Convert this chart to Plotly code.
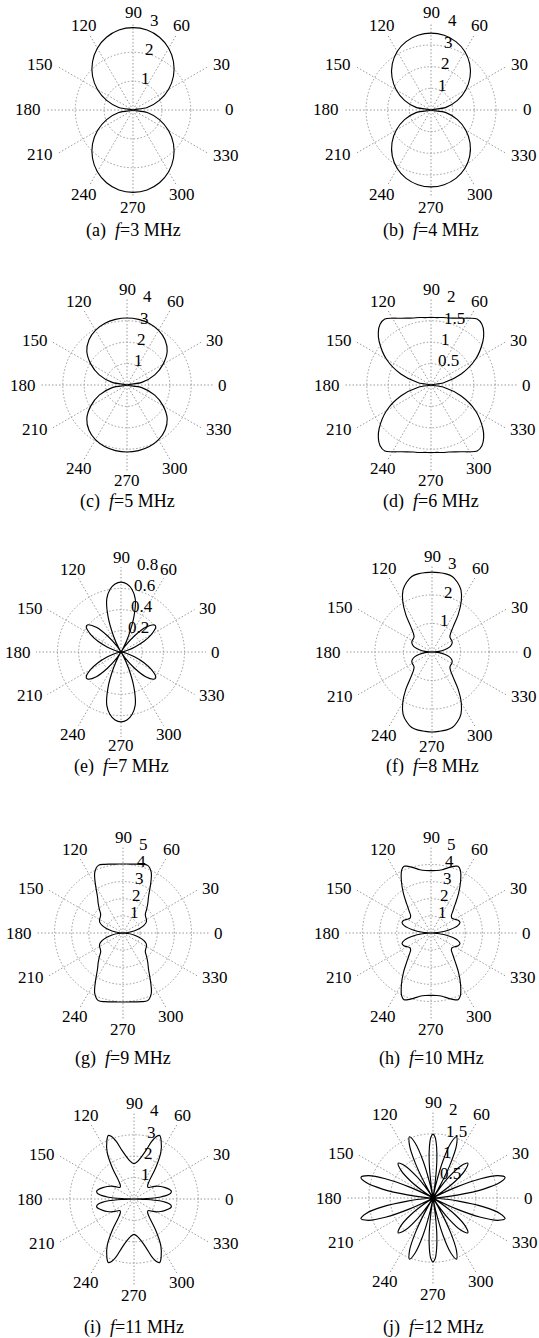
import math
import plotly.graph_objects as go

W, H = 539, 1338

# ---------------- data (one quadrant, 0..90 deg; patterns are symmetric) -------------
theta_a = [0, 10, 20, 30, 40, 50, 60, 70, 80, 90]
r_a = [0, 0.5, 0.97, 1.42, 1.83, 2.18, 2.47, 2.68, 2.81, 2.85]

theta_b = [0, 10, 20, 30, 40, 50, 60, 70, 80, 90]
r_b = [0, 0.7, 1.3, 1.85, 2.35, 2.78, 3.12, 3.36, 3.5, 3.55]

theta_c = [0, 10, 20, 30, 40, 50, 60, 70, 80, 90]
r_c = [0, 0.7, 1.38, 1.95, 2.45, 2.76, 2.95, 3.06, 3.11, 3.13]

theta_d = [0, 10, 20, 30, 40, 45, 50, 55, 60, 65, 70, 75, 80, 85, 90]
r_d = [0, 0.3, 0.75, 1.2, 1.58, 1.74, 1.85, 1.88, 1.8, 1.72, 1.66, 1.62, 1.6, 1.58, 1.58]

theta_e = [0, 5, 10, 15, 20, 25, 30, 35, 38, 40, 45, 50, 55, 58, 60, 65, 70, 75, 80, 85, 90]
r_e = [0, 0.01, 0.03, 0.07, 0.14, 0.24, 0.33, 0.4, 0.41, 0.4, 0.33, 0.2, 0.07, 0.0, 0.04, 0.17,
       0.36, 0.52, 0.6, 0.645, 0.66]

theta_f = [0, 5, 10, 15, 20, 25, 30, 35, 40, 45, 50, 55, 60, 65, 70, 75, 80, 85, 90]
r_f = [0, 0.25, 0.45, 0.62, 0.72, 0.78, 0.8, 0.8, 0.82, 0.92, 1.15, 1.6, 2.05, 2.4, 2.6, 2.74,
       2.78, 2.79, 2.8]

theta_g = [0, 5, 10, 15, 20, 25, 30, 35, 40, 45, 50, 55, 60, 65, 70, 75, 80, 85, 90]
r_g = [0, 0.3, 0.65, 1.0, 1.3, 1.5, 1.58, 1.62, 1.7, 1.95, 2.25, 2.6, 3.2, 3.9, 4.2, 4.15,
       4.08, 4.04, 4.03]

theta_h = [0, 5, 10, 15, 20, 25, 30, 35, 40, 45, 50, 55, 60, 65, 68, 70, 75, 80, 85, 90]
r_h = [0, 0.5, 1.1, 1.6, 1.8, 1.75, 1.6, 1.5, 1.55, 1.8, 2.2, 2.8, 3.45, 4.05, 4.2, 4.15,
       3.95, 3.75, 3.66, 3.64]

theta_i = [0, 2, 4, 6, 8, 10, 12, 15, 20, 25, 30, 35, 40, 45, 50, 55, 60, 65, 68, 70, 73,
           76, 80, 85, 90]
r_i = [0, 0.6, 1.2, 1.5, 1.68, 1.76, 1.78, 1.72, 1.55, 1.38, 1.2, 0.98, 0.85, 0.9, 1.12,
       1.75, 2.5, 3.0, 3.2, 3.12, 2.8, 2.35, 2.0, 1.75, 1.65]

theta_j = [0, 4, 7, 10, 13, 16, 19, 22, 25, 28, 31, 34, 37, 41, 45, 49, 53, 56, 58, 60, 63,
           66, 69, 72, 75, 78, 80, 82, 84, 86, 88, 90]
r_j = [0, 0.1, 0.6, 1.2, 1.6, 1.75, 1.6, 1.2, 0.6, 0.1, 0, 0.25, 0.65, 1.0, 1.15, 1.0, 0.6,
       0.2, 0, 0.3, 0.9, 1.35, 1.53, 1.35, 0.9, 0.3, 0, 0.35, 0.85, 1.2, 1.42, 1.49]

labels = ["(a)", "(b)", "(c)", "(d)", "(e)", "(f)", "(g)", "(h)", "(i)", "(j)"]
freqs = [3, 4, 5, 6, 7, 8, 9, 10, 11, 12]
radial_ticks = [
    [1, 2, 3], [1, 2, 3, 4], [1, 2, 3, 4], [0.5, 1, 1.5, 2], [0.2, 0.4, 0.6, 0.8],
    [1, 2, 3], [1, 2, 3, 4, 5], [1, 2, 3, 4, 5], [1, 2, 3, 4], [0.5, 1, 1.5, 2],
]
angle_ticks = list(range(0, 360, 30))

series = [(theta_a, r_a), (theta_b, r_b), (theta_c, r_c), (theta_d, r_d), (theta_e, r_e),
          (theta_f, r_f), (theta_g, r_g), (theta_h, r_h), (theta_i, r_i), (theta_j, r_j)]

# ---------------- layout positions (pixels) ----------------
centers = [(133, 110), (431, 110), (127, 385), (431, 385), (121, 652), (432, 652),
           (123, 933), (431, 933), (134, 1199), (433, 1198)]
radii = [87, 87, 86, 86, 85, 86, 86, 86, 86, 86]
caption_y = [231, 231, 501, 501, 767, 767, 1058, 1058, 1327, 1327]
bottom_gap = [10, 10, 10, 10, 8, 8, 10, 10, 10, 10]

FONT = "Liberation Serif"
FS = 17
GRID = "#9a9a9a"
DASH = "1.5px,2px"


def full_circle(th, r):
    T = list(th) + [180 - t for t in th[-2::-1]] + [180 + t for t in th[1:]] + \
        [360 - t for t in th[-2::-1]]
    R = list(r) + list(r[-2::-1]) + list(r[1:]) + list(r[-2::-1])
    return T, R


def px_to_paper(x, y):
    return x / W, 1 - y / H


fig = go.Figure()
annotations = []
for k, ((th, r), (cx, cy), R) in enumerate(zip(series, centers, radii)):
    name = "polar" if k == 0 else f"polar{k + 1}"
    T, RR = full_circle(th, r)
    fig.add_trace(go.Scatterpolar(
        theta=T, r=RR, mode="lines", subplot=name,
        line=dict(color="black", width=1.15, shape="spline", smoothing=1),
        showlegend=False, hoverinfo="skip"))
    ticks = radial_ticks[k]
    tmax = ticks[-1]
    fig.update_layout(**{name: dict(
        domain=dict(x=[(cx - R) / W, (cx + R) / W], y=[1 - (cy + R) / H, 1 - (cy - R) / H]),
        bgcolor="white",
        angularaxis=dict(
            rotation=0, direction="counterclockwise", tickmode="array",
            tickvals=angle_ticks, showticklabels=False,
            showgrid=True, gridcolor=GRID, griddash=DASH, gridwidth=1,
            showline=False, ticks=""),
        radialaxis=dict(
            range=[0, tmax * 1.004], tickmode="array", tickvals=ticks,
            showticklabels=False, showline=False, ticks="", showgrid=True,
            gridcolor=GRID, griddash=DASH, gridwidth=1),
    )})

    # angular tick labels (MATLAB-polar style placement)
    for a in angle_ticks:
        ca, sa = math.cos(math.radians(a)), math.sin(math.radians(a))
        if a in (0, 30, 330):
            rr, xa = R + 3, "left"
        elif a in (150, 180, 210):
            rr, xa = R + 3, "right"
        elif a == 90:
            rr, xa = R + 10, "center"
        elif a == 270:
            rr, xa = R + bottom_gap[k], "center"
        else:
            rr, xa = R * 1.12, "center"
        x, y = px_to_paper(cx + rr * ca, cy - rr * sa)
        annotations.append(dict(x=x, y=y, xref="paper", yref="paper", text=str(a),
                                showarrow=False, xanchor=xa, yanchor="middle",
                                font=dict(family=FONT, size=FS, color="black")))
    # radial tick labels at 82 degrees, left aligned
    c82, s82 = math.cos(math.radians(82)), math.sin(math.radians(82))
    for t in ticks:
        rr = t / tmax * R + 3
        x, y = px_to_paper(cx + rr * c82 + 2, cy - rr * s82)
        annotations.append(dict(x=x, y=y, xref="paper", yref="paper", text=f"{t:g}",
                                showarrow=False, xanchor="left", yanchor="middle",
                                font=dict(family=FONT, size=FS, color="black")))
    # caption
    x, y = px_to_paper(cx, caption_y[k])
    annotations.append(dict(
        x=x, y=y, xref="paper", yref="paper",
        text=f"{labels[k]}  <i>f</i>={freqs[k]} MHz", showarrow=False,
        xanchor="center", yanchor="middle",
        font=dict(family=FONT, size=18, color="black")))

fig.update_layout(width=W, height=H, margin=dict(l=0, r=0, t=0, b=0),
                  paper_bgcolor="white", plot_bgcolor="white",
                  annotations=annotations)
fig.write_html("out.html", config={"displayModeBar": False},
               post_script="document.body.style.margin='0';"
                           "document.body.style.overflow='hidden';")
